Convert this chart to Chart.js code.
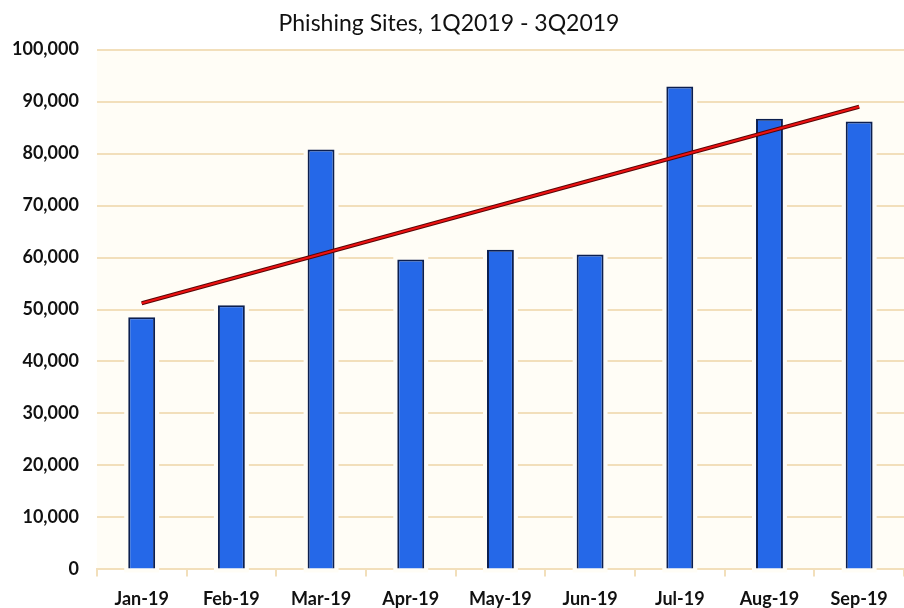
<!DOCTYPE html>
<html>
<head>
<meta charset="utf-8">
<script src="https://cdn.jsdelivr.net/npm/chart.js@4"></script>
<style>
  html, body { margin: 0; padding: 0; background: #fff; }
  #wrap { width: 904px; height: 608px; }
</style>
</head>
<body>
<div id="wrap"><canvas id="chart"></canvas></div>
<script>
// phishing sites by month, 1Q-3Q 2019

const months = ["Jan-19", "Feb-19", "Mar-19", "Apr-19", "May-19", "Jun-19", "Jul-19", "Aug-19", "Sep-19"];
const sites = [48500, 50800, 80800, 59600, 61500, 60600, 92900, 86700, 86150];
// trend line ends, middle left empty (spanGaps)
const trend = [51200, null, null, null, null, null, null, null, 89000];

const grid = "#f2dfbb";

// cream plot background + light halo around bars
const plotBg = {
  id: "plotBg",
  beforeDraw(chart) {
    const { ctx, chartArea: a } = chart;
    ctx.save();
    ctx.fillStyle = "#fffdf6";
    ctx.fillRect(a.left, a.top, a.right - a.left, a.bottom - a.top);
    ctx.restore();
  },
  beforeDatasetsDraw(chart) {
    const ctx = chart.ctx;
    const meta = chart.getDatasetMeta(2);
    ctx.save();
    ctx.strokeStyle = "#fffdf6";
    ctx.lineWidth = 8;
    meta.data.forEach(b => {
      const w = b.width;
      ctx.strokeRect(b.x - w / 2, b.y, w, b.base - b.y);
    });
    ctx.restore();
  }
};

new Chart(document.getElementById("chart"), {
  data: {
    labels: months,
    datasets: [
      {
        type: "line",
        data: trend,
        spanGaps: true,
        borderColor: "#5a0505",
        borderWidth: 4,
        pointRadius: 0,
        order: 1
      },
      {
        type: "line",
        data: trend,
        spanGaps: true,
        borderColor: "#ee1111",
        borderWidth: 2,
        pointRadius: 0,
        order: 0
      },
      {
        type: "bar",
        data: sites,
        backgroundColor: "#2568e8",
        borderColor: "#0c1f4f",
        borderWidth: 2,
        barPercentage: 0.3,
        categoryPercentage: 1,
        order: 2
      }
    ]
  },
  options: {
    responsive: true,
    maintainAspectRatio: false,
    animation: false,
    layout: { padding: { top: 10, left: -6, right: 0, bottom: -14 } },
    plugins: {
      legend: { display: false },
      tooltip: { enabled: false },
      title: {
        display: true,
        text: "Phishing Sites, 1Q2019 - 3Q2019",
        color: "#111",
        font: { family: "Lato", size: 23, weight: "normal" },
        padding: { top: 0, bottom: 12 }
      }
    },
    scales: {
      x: {
        offset: true,
        grid: {
          offset: true,
          drawOnChartArea: false,
          color: grid,
          lineWidth: 2,
          tickLength: 7
        },
        border: { color: grid, width: 2 },
        ticks: {
          color: "#111",
          padding: 12,
          maxRotation: 0,
          font: { family: "Lato", size: 18, weight: "bold" }
        }
      },
      y: {
        min: 0,
        max: 100000,
        grid: { color: grid, lineWidth: 2, drawTicks: false },
        border: { display: false },
        ticks: {
          stepSize: 10000,
          color: "#111",
          padding: 18,
          font: { family: "Lato", size: 18, weight: "bold" },
          callback: v => v.toLocaleString("en-US")
        }
      }
    }
  },
  plugins: [plotBg]
});
</script>
</body>
</html>
